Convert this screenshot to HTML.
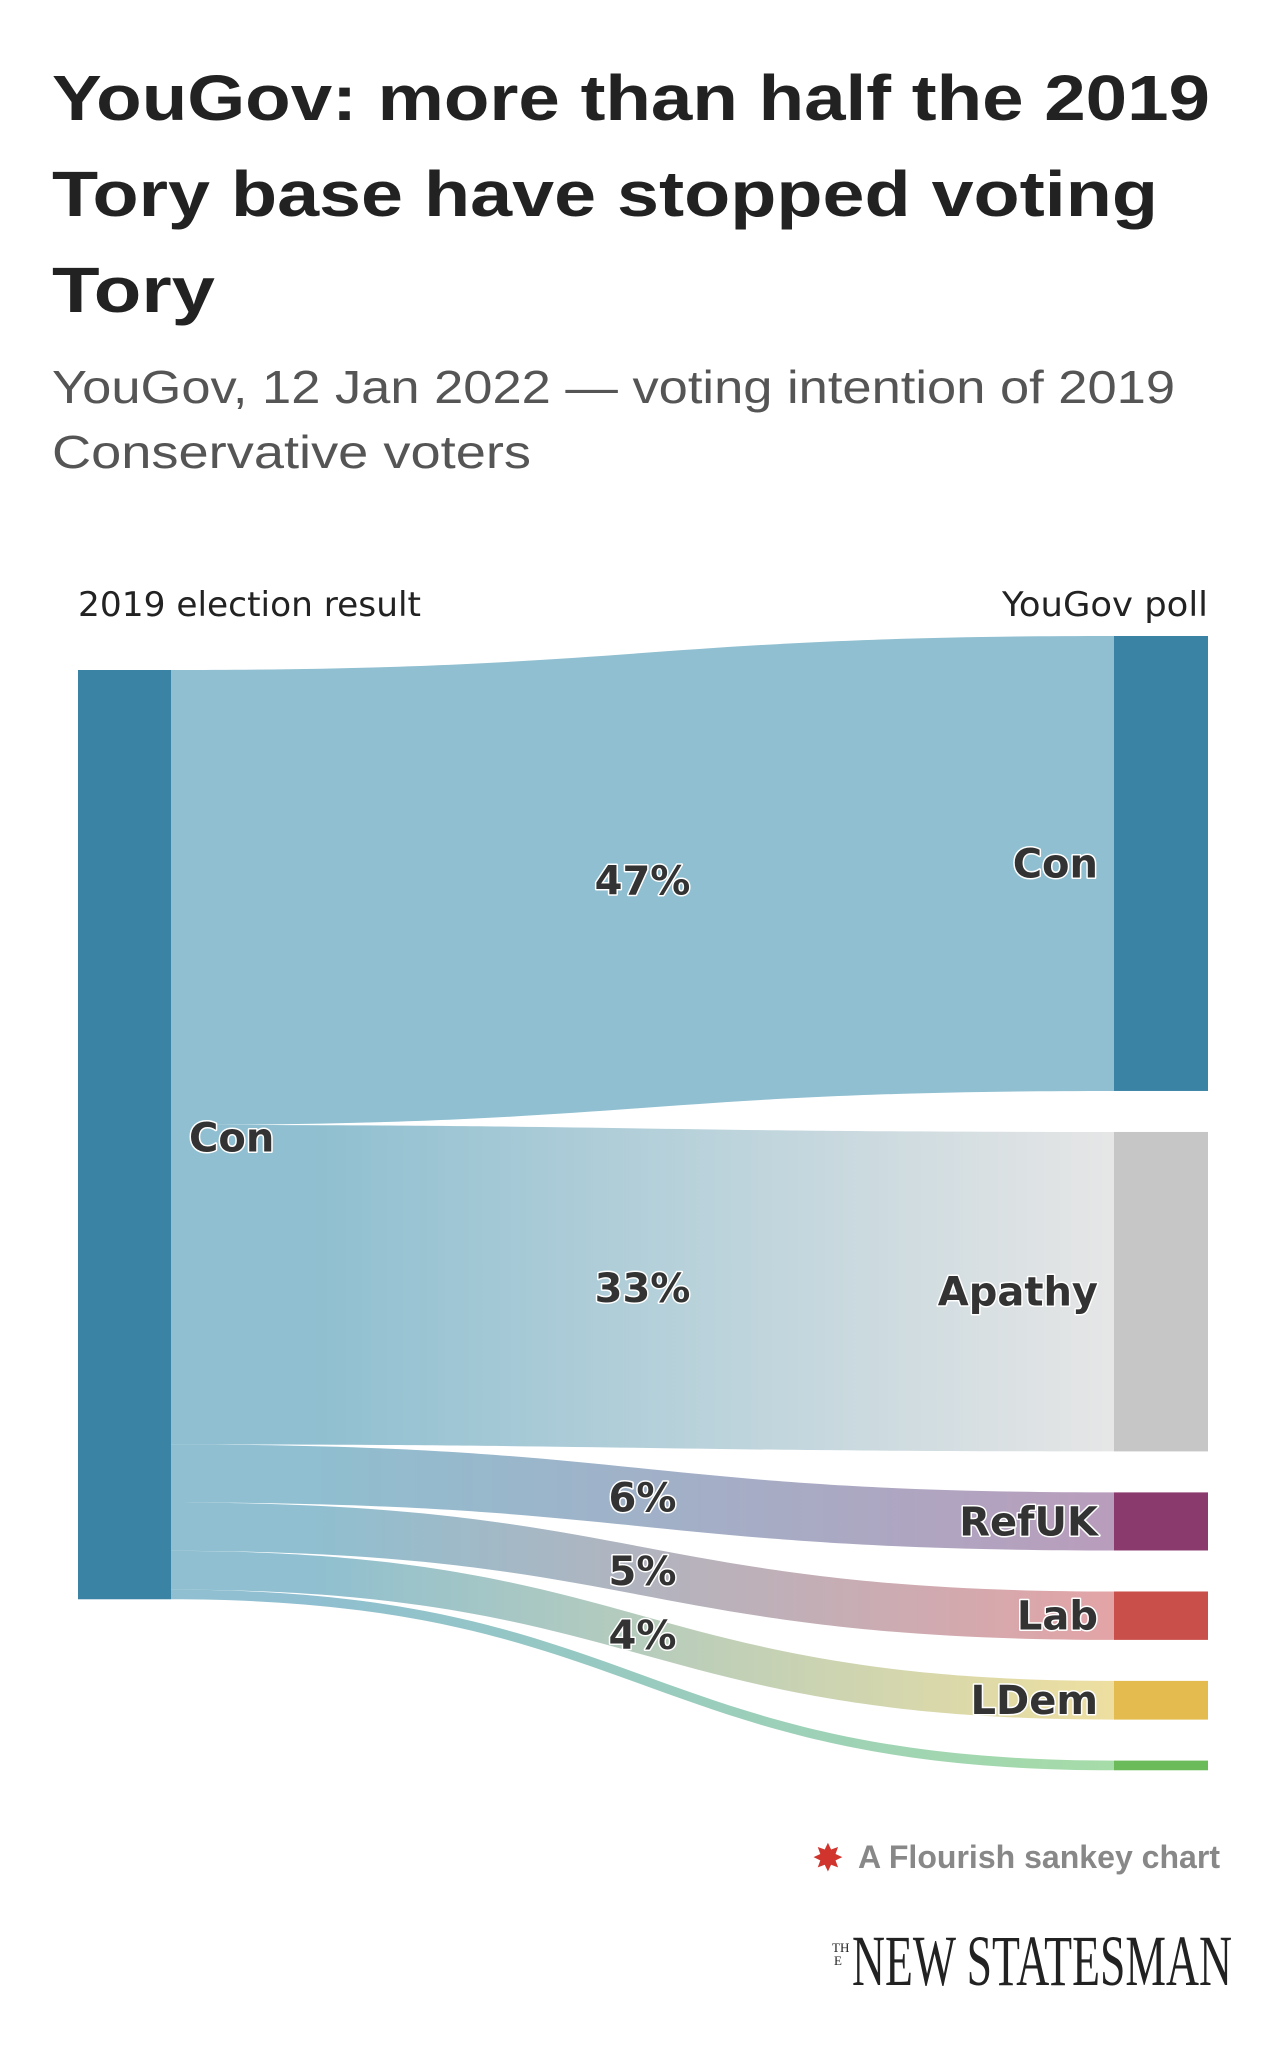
<!DOCTYPE html>
<html><head><meta charset="utf-8">
<style>
html,body{margin:0;padding:0;background:#fff;}
svg{display:block;}
.lbl{font-family:"DejaVu Sans","Liberation Sans",sans-serif;font-weight:bold;fill:#333;paint-order:stroke;stroke:#fff;stroke-width:3px;stroke-linejoin:round;}
</style></head>
<body>
<svg id="chart" width="1288" height="2048" viewBox="0 0 1288 2048" xmlns="http://www.w3.org/2000/svg">
<defs id="defs"></defs>
<text x="52" y="120" font-family="Liberation Sans, sans-serif" font-weight="bold" font-size="64" fill="#222" textLength="1158" lengthAdjust="spacingAndGlyphs">YouGov: more than half the 2019</text>
<text x="52" y="216" font-family="Liberation Sans, sans-serif" font-weight="bold" font-size="64" fill="#222" textLength="1106" lengthAdjust="spacingAndGlyphs">Tory base have stopped voting</text>
<text x="52" y="312" font-family="Liberation Sans, sans-serif" font-weight="bold" font-size="64" fill="#222" textLength="163" lengthAdjust="spacingAndGlyphs">Tory</text>
<text x="52" y="403" font-family="Liberation Sans, sans-serif" font-size="46" fill="#555" textLength="1123" lengthAdjust="spacingAndGlyphs">YouGov, 12 Jan 2022 — voting intention of 2019</text>
<text x="52" y="468" font-family="Liberation Sans, sans-serif" font-size="46" fill="#555" textLength="479" lengthAdjust="spacingAndGlyphs">Conservative voters</text>
<text x="78" y="616" font-family="DejaVu Sans, sans-serif" font-size="34" fill="#222" textLength="343" lengthAdjust="spacingAndGlyphs">2019 election result</text>
<text x="1208" y="616" text-anchor="end" font-family="DejaVu Sans, sans-serif" font-size="34" fill="#222" textLength="206" lengthAdjust="spacingAndGlyphs">YouGov poll</text>
<g id="links"></g>
<g id="nodes"></g>
<g id="labels"></g>
<g>
<text x="812" y="1871" font-size="38" fill="#d0342c" font-family="DejaVu Sans, sans-serif">✸</text>
<text x="858" y="1868" font-family="Liberation Sans, sans-serif" font-weight="bold" font-size="32" fill="#888" textLength="362" lengthAdjust="spacingAndGlyphs">A Flourish sankey chart</text>
</g>
<g>
<text x="832" y="1952" font-family="Liberation Serif, serif" font-size="13" fill="#222">TH</text>
<text x="834" y="1965" font-family="Liberation Serif, serif" font-size="13" fill="#222">E</text>
<text x="852" y="1985" font-family="Liberation Serif, serif" font-size="72" fill="#222" textLength="380" lengthAdjust="spacingAndGlyphs">NEW STATESMAN</text>
</g>
</svg>
<script>
const targets = ["Con","Apathy","RefUK","Lab","LDem",""];
const values = [47,33,6,5,4,1];
const pctLabels = ["47%","33%","6%","5%","4%",""];
const nodeColors = ["#3a83a5","#c6c6c6","#8a3a6c","#c9504a","#e3bb4e","#6cbb5a"];
const linkEndColors = ["#8fbfd0","#e6e6e6","#b99dbc","#e3a4a6","#eedfa0","#a6dca8"];

const NS="http://www.w3.org/2000/svg";
const defs=document.getElementById('defs');
const gL=document.getElementById('links'), gN=document.getElementById('nodes'), gT=document.getElementById('labels');
const leftX0=78, leftX1=171, rightX0=1114, rightX1=1208;
const leftTop=670, rightTop=636, gap=41, scale=9.68;
const midX=(leftX1+rightX0)/2;
const srcColor="#8fbfd0";
function mk(tag,attrs){const e=document.createElementNS(NS,tag);for(const k in attrs)e.setAttribute(k,attrs[k]);return e;}
const total=values.reduce((a,b)=>a+b,0);
const leftNode=mk('rect',{x:leftX0,y:leftTop,width:leftX1-leftX0,height:total*scale,fill:"#3a83a5"});


gN.appendChild(leftNode);
let ly=leftTop, ry=rightTop;
values.forEach((v,i)=>{
  const h=v*scale;
  const g=mk('linearGradient',{id:'grad'+i,x1:leftX1,x2:rightX0,y1:0,y2:0,gradientUnits:'userSpaceOnUse'});
  g.appendChild(mk('stop',{offset:'0.15','stop-color':srcColor}));
  g.appendChild(mk('stop',{offset:'1','stop-color':linkEndColors[i]}));
  defs.appendChild(g);
  const d=`M${leftX1},${ly} C${midX},${ly} ${midX},${ry} ${rightX0},${ry} L${rightX0},${ry+h} C${midX},${ry+h} ${midX},${ly+h} ${leftX1},${ly+h} Z`;
  const p=mk('path',{d:d,fill:'url(#grad'+i+')'});
  
  
  gL.appendChild(p);
  const r=mk('rect',{x:rightX0,y:ry,width:rightX1-rightX0,height:h,fill:nodeColors[i]});
  
  
  gN.appendChild(r);
  if(targets[i]){
    const t=mk('text',{x:rightX0-16,y:ry+h/2+14,'text-anchor':'end','font-size':40,class:'lbl'});
    t.textContent=targets[i];
    
    
    gT.appendChild(t);
  }
  if(pctLabels[i]){
    const cy=(ly+h/2+ry+h/2)/2;
    const t=mk('text',{x:midX,y:cy+14,'text-anchor':'middle','font-size':40,class:'lbl'});
    t.textContent=pctLabels[i];
    
    
    gT.appendChild(t);
  }
  ly+=h; ry+=h+gap;
});
const sl=mk('text',{x:leftX1+18,y:leftTop+total*scale/2+17,'font-size':40,class:'lbl'});
sl.textContent='Con';


gT.appendChild(sl);
</script>
</body></html>
